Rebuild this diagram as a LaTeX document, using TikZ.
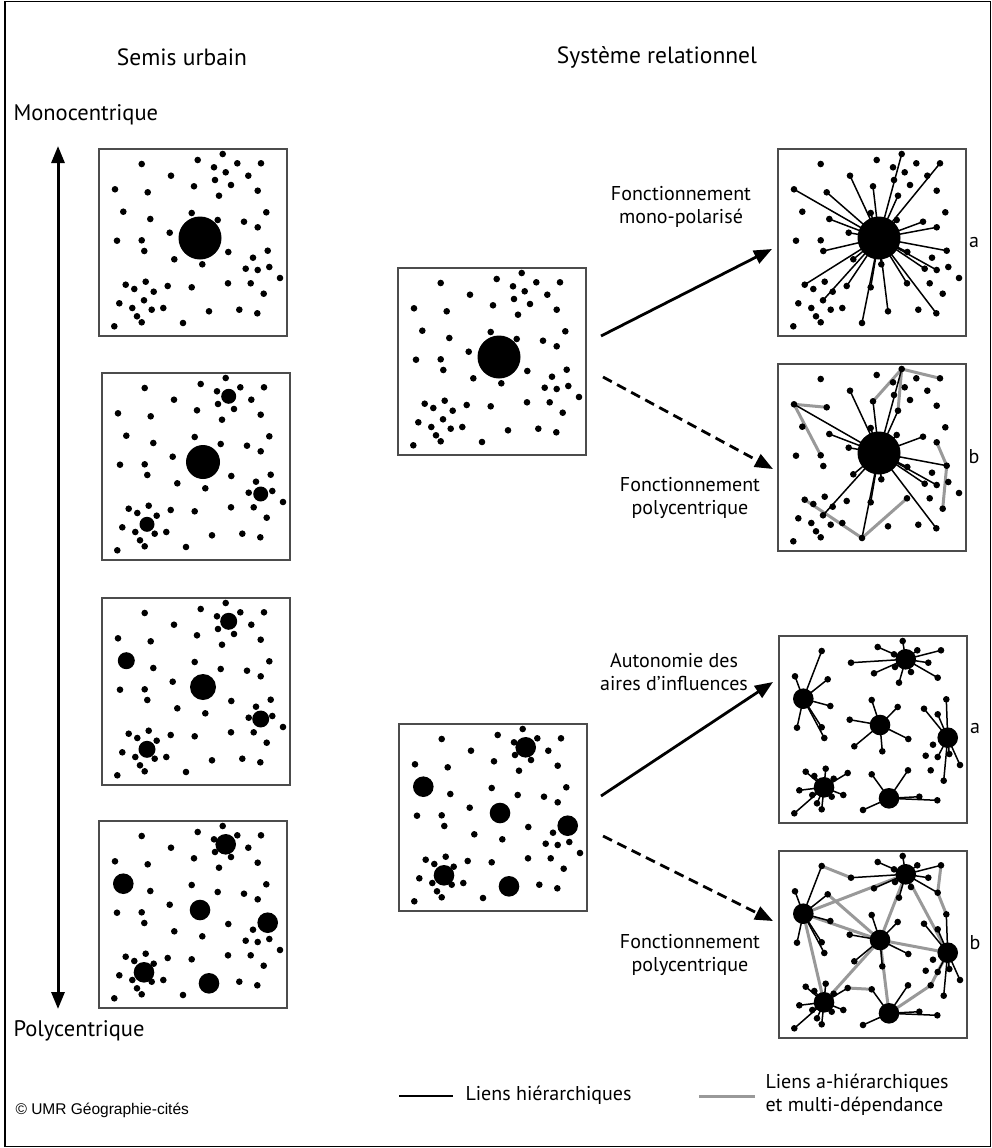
\documentclass[tikz,border=0pt]{standalone}
\usepackage{fontspec}
\setmainfont{PT Sans}
\newfontfamily\creditfont{Liberation Sans}
\usetikzlibrary{arrows.meta}

% scatter of small towns, local coordinates inside a 188 x 187 square
\newcommand\townlist{123.7/5, 42.7/15, 98.7/11, 138.3/14.3, 162/14.3,
  115/18.3, 126.7/23.3, 149.3/26.7, 72/26.7, 116/31, 132/36, 95/37.3,
  16/40.3, 48.7/43.3, 158.7/41.7, 120/46.7, 24.3/62.7, 92.7/64,
  167.3/63.3, 51.3/70, 118.7/71, 145/72.7, 158.7/78.3, 70.7/83.7,
  18/91.7, 42.7/91.3, 45.3/102, 129.3/103, 168.7/101.7, 75.3/110.3,
  103.3/115.3, 154/108.7, 146.7/119.7, 158.7/121, 170.3/118, 181/129,
  26.7/135.7, 35.3/140, 46.7/132.7, 54.7/142.7, 68.7/137, 92.7/138.3,
  129/134.3, 151.7/134.3, 164.7/144.7, 20.3/154.3, 45/151.3, 33.3/159,
  52.7/160.7, 64.3/159, 110/162.3, 140.3/160.7, 158.3/164.3, 38/167.3,
  42.7/173.3, 84/174, 15.3/177.3}

% square #1 with its top left corner at #2
\newcommand\townsquare[2]{%
  \begin{scope}[shift={#2}]
    \draw[frame] (0,0) rectangle (188,187);
    \coordinate (#1-c) at (101,89);
    \foreach \x/\y [count=\i] in \townlist {
      \coordinate (#1-\i) at (\x,\y);
    }
  \end{scope}}
\newcommand\towndots[1]{%
  \foreach \i in {1,...,57} \fill (#1-\i) circle (3.3);}

% six poles, each with its own area of influence
\newcommand\clusterlinks[1]{%
  \foreach \j in {2,13,14,20,25,26,27} \draw[hier] (#1-17) -- (#1-\j);
  \foreach \j in {1,3,4,5,6,8,9,10,11,12,15,16} \draw[hier] (#1-7) -- (#1-\j);
  \foreach \j in {18,21,24,28,30,31} \draw[hier] (#1-c) -- (#1-\j);
  \foreach \j in {19,22,23,34,35,36,45} \draw[hier] (#1-29) -- (#1-\j);
  \foreach \j in {37,38,39,40,41,46,48,49,50,54,55,57} \draw[hier] (#1-47) -- (#1-\j);
  \foreach \j in {42,43,52,53,56} \draw[hier] (#1-51) -- (#1-\j);}
\newcommand\clusterpoles[1]{%
  \foreach \k in {7,17,c,29,47,51} \fill (#1-\k) circle (10.3);}

\begin{document}
\begin{tikzpicture}[x=1pt, y=-1pt,
  frame/.style={draw=black!70, line width=1.1pt},
  hier/.style={line width=1.5pt},
  multi/.style={line width=3pt, draw=black!40, line cap=round},
  flow/.style={line width=2.8pt, -{Triangle[length=18pt,width=14pt]}},
  title/.style={font=\fontsize{23.5}{28}\selectfont},
  side/.style={font=\fontsize{22.5}{26}\selectfont},
  label/.style={font=\fontsize{20}{23}\selectfont, align=center}]
\useasboundingbox (0,0) rectangle (992,1148);
\draw[line width=1.2pt] (5,1.5) rectangle (990.5,1146.5);

\node[title] (semis) at (182,57) {Semis urbain};
\node[title] (systeme) at (657,57) {Système relationnel};
\node[side, anchor=west] (mono) at (10,115) {Monocentrique};
\node[side, anchor=west] (poly) at (10,1031) {Polycentrique};
\coordinate (up) at (58,146);
\coordinate (down) at (58,1009);
\draw[line width=3pt, {Triangle[length=17pt,width=13pt]}-{Triangle[length=17pt,width=13pt]}] (up) -- (down);

% semis urbain, from one pole to many
\townsquare{P1}{(99,149)}
\towndots{P1}
\fill (P1-c) circle (21.5);

\townsquare{P2}{(102,373)}
\towndots{P2}
\fill (P2-c) circle (17);
\foreach \k in {7,34,47} \fill (P2-\k) circle (7.5);

\townsquare{P3}{(102,598)}
\towndots{P3}
\fill (P3-c) circle (13);
\foreach \k in {7,17,34,47} \fill (P3-\k) circle (8.5);

\townsquare{P4}{(99,821)}
\towndots{P4}
\clusterpoles{P4}

% systeme relationnel
\townsquare{P5}{(398,268)}
\towndots{P5}
\fill (P5-c) circle (21.5);

\townsquare{P6}{(399,724)}
\towndots{P6}
\clusterpoles{P6}

\townsquare{P7}{(778,149)}
\foreach \j in {1,5,9,12,13,14,16,18,20,21,22,23,24,27,28,29,30,31,33,34,37,41,42,43,47,51,53,56}
  \draw[hier] (P7-c) -- (P7-\j);
\towndots{P7}
\fill (P7-c) circle (21.5);

\townsquare{P8}{(778,364)}
\draw[multi] (P8-5) -- (P8-1) -- (P8-12);
\draw[multi] (P8-1) -- (P8-16);
\draw[multi] (P8-14) -- (P8-13) -- (P8-26);
\draw[multi] (P8-23) -- (P8-29) -- (P8-45);
\draw[multi] (P8-37) -- (P8-56) -- (P8-43);
\foreach \j in {1,9,12,13,16,18,20,21,22,24,28,29,30,31,33,34,42,47,53,56}
  \draw[hier] (P8-c) -- (P8-\j);
\towndots{P8}
\fill (P8-c) circle (21.5);

\townsquare{P9}{(779,636)}
\clusterlinks{P9}
\towndots{P9}
\clusterpoles{P9}

\townsquare{P10}{(779,851)}
\draw[multi] (P10-47) -- (P10-17) -- (P10-7) -- (P10-29) -- (P10-c) -- (P10-17);
\draw[multi] (P10-7) -- (P10-c) -- (P10-47);
\draw[multi] (P10-c) -- (P10-51) -- (P10-44) -- (P10-29);
\draw[multi] (P10-14) -- (P10-c);
\draw[multi] (P10-2) -- (P10-9);
\draw[multi] (P10-5) -- (P10-15) -- (P10-19);
\draw[multi] (P10-41) -- (P10-42);
\clusterlinks{P10}
\towndots{P10}
\clusterpoles{P10}

% arrows and their labels
\coordinate (s1) at (601,336);
\coordinate (t1) at (772,249);
\coordinate (s2) at (603,377);
\coordinate (t2) at (773,469);
\coordinate (s3) at (601,796);
\coordinate (t3) at (773,682);
\coordinate (s4) at (603,836);
\coordinate (t4) at (773,921);
\draw[flow] (s1) -- (t1);
\draw[flow, dash pattern=on 10pt off 6pt] (s2) -- (t2);
\draw[flow] (s3) -- (t3);
\draw[flow, dash pattern=on 10pt off 6pt] (s4) -- (t4);

\node[label] (mono-pol) at (681,207) {Fonctionnement\\mono-polarisé};
\node[label] (poly-a) at (690,498) {Fonctionnement\\polycentrique};
\node[label] (autonomie) at (674,672) {Autonomie des\\aires d'influences};
\node[label] (poly-b) at (690,955) {Fonctionnement\\polycentrique};
\node[label] (a1) at (974,242) {a};
\node[label] (b1) at (974,457) {b};
\node[label] (a2) at (975,728) {a};
\node[label] (b2) at (975,943) {b};

% legend
\coordinate (k1) at (399,1096);
\coordinate (k2) at (453,1096);
\coordinate (k3) at (699,1096);
\coordinate (k4) at (755,1096);
\draw[hier] (k1) -- (k2);
\draw[multi, line cap=butt] (k3) -- (k4);
\node[label, anchor=west] (hier-txt) at (462,1095) {Liens hiérarchiques};
\node[label, anchor=west, align=left] (multi-txt) at (762,1095) {Liens a-hiérarchiques\\et multi-dépendance};
\node[anchor=west, font=\creditfont\fontsize{15.5}{18}\selectfont] (credit) at (12,1110) {© UMR Géographie-cités};
\end{tikzpicture}
\end{document}
